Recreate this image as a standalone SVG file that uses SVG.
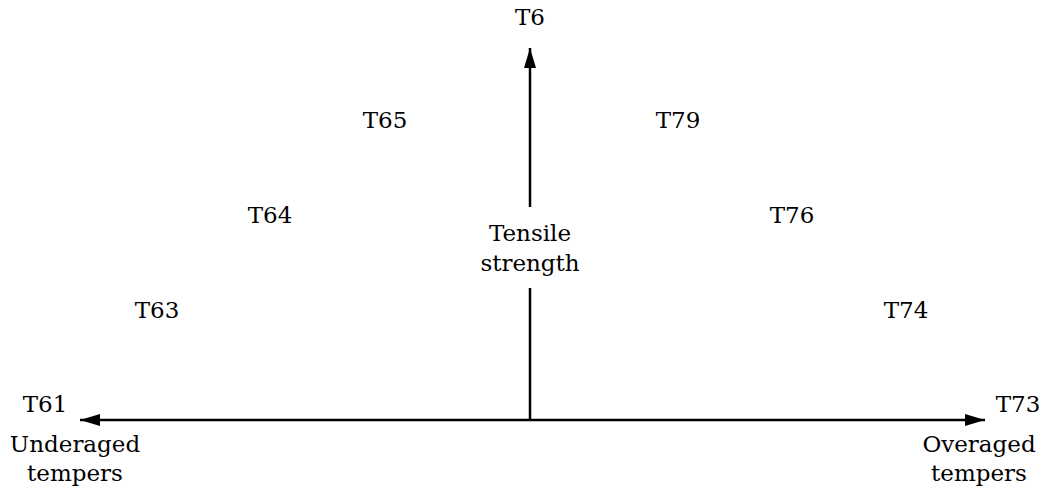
<svg xmlns="http://www.w3.org/2000/svg" width="1044" height="490" viewBox="0 0 1044 490">
<style>
text{font-family:"DejaVu Serif","Liberation Serif",serif;font-size:23px;fill:#000;text-anchor:middle}
.ax{stroke:#000;stroke-width:2.5;fill:none}
</style>
<defs>
<marker id="ah" viewBox="0 0 20 12" refX="20" refY="6" markerWidth="20" markerHeight="12" markerUnits="userSpaceOnUse" orient="auto">
<path d="M0,0 L20,6 L0,12 Z" fill="#000"/>
</marker>
</defs>
<g id="connectors">
<line class="ax" x1="530" y1="420" x2="80" y2="420" marker-end="url(#ah)"/>
<line class="ax" x1="530" y1="420" x2="985" y2="420" marker-end="url(#ah)"/>
<line class="ax" x1="530" y1="420" x2="530" y2="288"/>
<line class="ax" x1="530" y1="207" x2="530" y2="48" marker-end="url(#ah)"/>
</g>
<g id="T6"><text x="530" y="25">T6</text></g>
<g id="T65"><text x="385" y="128">T65</text></g>
<g id="T79"><text x="678" y="128">T79</text></g>
<g id="T64"><text x="270" y="223">T64</text></g>
<g id="T76"><text x="792" y="223">T76</text></g>
<g id="T63"><text x="157" y="318">T63</text></g>
<g id="T74"><text x="906" y="318">T74</text></g>
<g id="T61"><text x="45" y="412">T61</text></g>
<g id="T73"><text x="1018" y="412">T73</text></g>
<g id="tensile"><text x="530" y="241">Tensile</text><text x="530" y="271">strength</text></g>
<g id="underaged"><text x="75" y="452">Underaged</text><text x="75" y="481">tempers</text></g>
<g id="overaged"><text x="979" y="452">Overaged</text><text x="979" y="481">tempers</text></g>
</svg>
